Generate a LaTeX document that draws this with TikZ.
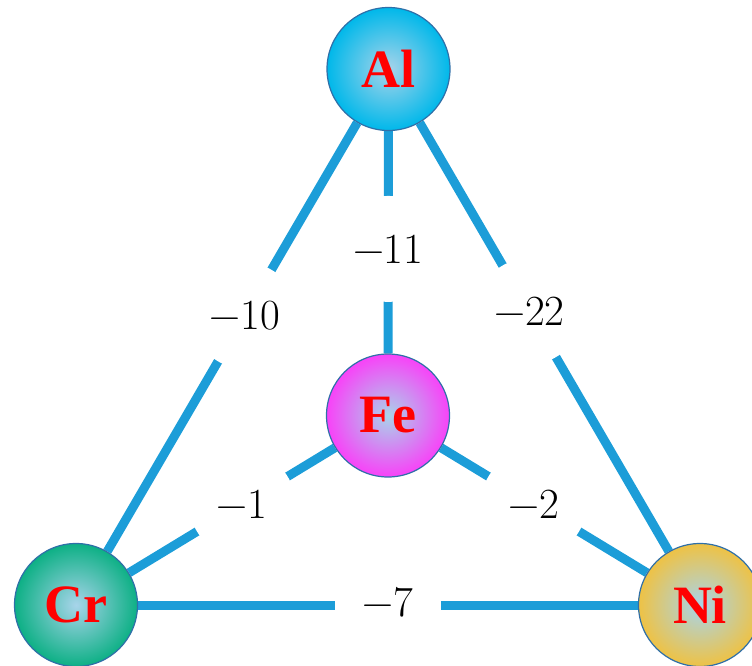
\documentclass[tikz,border=0pt]{standalone}
\usepackage{fontspec}
\newfontfamily\atomfont{Liberation Serif}
\usetikzlibrary{backgrounds}

\definecolor{bondblue}{HTML}{1C9DD8}
\definecolor{rimblue}{HTML}{2F6FA8}
\definecolor{coreblue}{HTML}{A8D4EA}
\definecolor{alcyan}{HTML}{00B8EA}
\definecolor{femag}{HTML}{F842F8}
\definecolor{crgreen}{HTML}{0DB085}
\definecolor{nigold}{HTML}{EEC245}

\begin{document}
\begin{tikzpicture}[x=1pt,y=-1pt,
	atom/.style={circle, draw=rimblue, line width=1.2pt, minimum size=123pt, inner sep=0pt,
		inner color=coreblue, outer color=#1, text=red, font=\atomfont\bfseries\fontsize{54}{54}\selectfont},
	bond/.style={draw=bondblue, line width=9pt},
	gap/.style={circle, fill=white, minimum size=106pt, inner sep=0pt, font=\fontsize{43}{43}\selectfont}]
			\useasboundingbox (0,0) rectangle (752,666);
			\clip (0,0) rectangle (752,666);
			\node[atom=alcyan] (Al) at (388.5,69) {Al};
			\node[atom=femag] (Fe) at (388,415.5) {Fe};
			\node[atom=crgreen] (Cr) at (76,605) {Cr};
			\node[atom=nigold] (Ni) at (700,605) {Ni};
			\begin{scope}[on background layer]
				\draw[bond] (Al) -- node[gap, pos=0.45] (lAlCr) {−10} (Cr);
				\draw[bond] (Al) -- node[gap, pos=0.53] (lAlFe) {−11} (Fe);
				\draw[bond] (Al) -- node[gap, pos=0.44] (lAlNi) {−22} (Ni);
				\draw[bond] (Fe) -- node[gap, pos=0.45] (lFeCr) {−1} (Cr);
				\draw[bond] (Fe) -- node[gap, pos=0.45] (lFeNi) {−2} (Ni);
				\draw[bond] (Cr) -- node[gap, pos=0.5] (lCrNi) {\raisebox{6pt}{−7}} (Ni);
			\end{scope}
		\end{tikzpicture}
\end{document}
